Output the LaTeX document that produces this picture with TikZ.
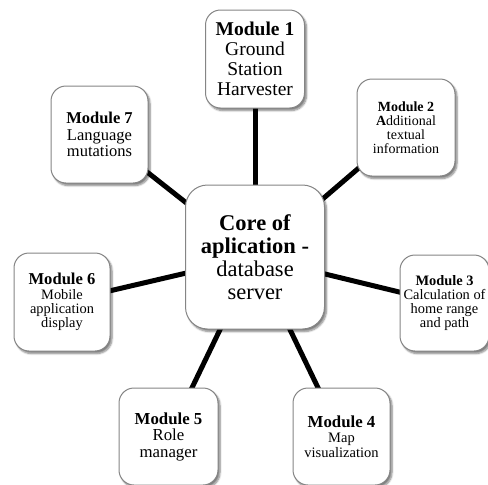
\documentclass[tikz,border=0pt]{standalone}
\usepackage{fontspec}
\setmainfont{Liberation Serif}
\usetikzlibrary{shadows.blur,backgrounds}
\newcommand{\fs}[2]{\fontsize{#1}{#2}\selectfont}
\begin{document}
\begin{tikzpicture}[x=1pt,y=-1pt,
  modbox/.style={draw=black!48, line width=1pt, fill=white, rounded corners=15pt,
    inner sep=0pt, align=center,
    blur shadow={shadow xshift=2pt, shadow yshift=-2.5pt, shadow blur steps=6, shadow opacity=50}},
  link/.style={line width=5pt, black}]
\useasboundingbox (0,0) rectangle (488,485);

% central server
\node[modbox, rounded corners=22pt, minimum width=139pt, minimum height=144pt,
      font=\fs{22.5}{23}] (core) at (255,257)
  {\textbf{Core of}\\\textbf{aplication -}\\database\\server};

% modules around the core
\node[modbox, minimum width=99pt, minimum height=98pt, font=\fs{19.5}{20}] (m1) at (255,59)
  {\textbf{Module 1}\\Ground\\Station\\Harvester};
\node[modbox, minimum width=98pt, minimum height=97pt, font=\fs{14}{14}] (m2) at (406,127.5)
  {\textbf{Module 2}\\\textbf{A}dditional\\textual\\information};
\node[modbox, minimum width=89pt, minimum height=96pt, font=\fs{14.4}{14.2}] (m3) at (444.5,303)
  {\textbf{Module 3}\\Calculation of\\home range\\and path};
\node[modbox, minimum width=97pt, minimum height=97pt, font=\fs{14.5}{15}] (m4) at (341.5,436.5)
  {\fs{16.8}{16}\textbf{Module 4}\\Map\\visualization};
\node[modbox, minimum width=99pt, minimum height=97pt, font=\fs{16.8}{16.5}] (m5) at (168.5,436.5)
  {\textbf{Module 5}\\Role\\manager};
\node[modbox, minimum width=96pt, minimum height=98pt, font=\fs{14.4}{14.2}] (m6) at (62,302)
  {\fs{16.6}{15}\textbf{Module 6}\\Mobile\\application\\display};
\node[modbox, minimum width=97pt, minimum height=97pt, font=\fs{16.5}{16.5}] (m7) at (99.5,134.5)
  {\textbf{Module 7}\\Language\\mutations};

% spokes, drawn beneath the boxes
\begin{pgfonlayer}{background}
  \foreach \m in {m1,m2,m3,m4,m5,m6,m7}
    \draw[link] (core.center) -- (\m.center);
\end{pgfonlayer}
\end{tikzpicture}
\end{document}
